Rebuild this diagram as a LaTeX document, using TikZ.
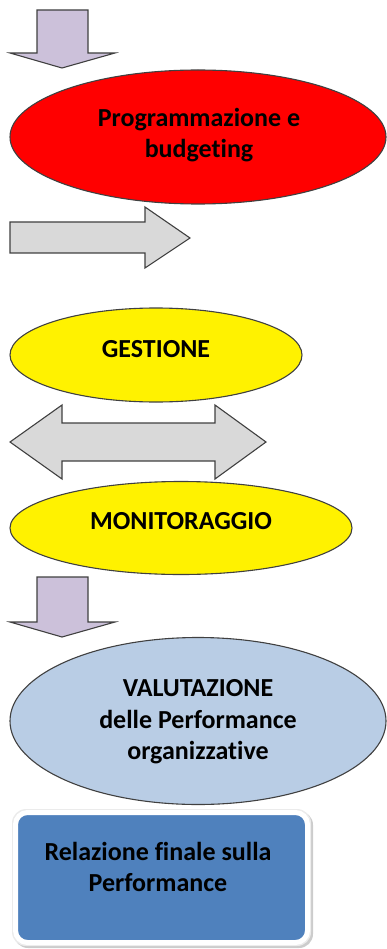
\documentclass[tikz,border=0pt]{standalone}
\usepackage{fontspec}
\setmainfont[Ligatures=NoCommon]{Carlito}
\usetikzlibrary{shapes.geometric,shadows}
\definecolor{lav}{HTML}{CCC1DA}
\definecolor{arrgray}{HTML}{D9D9D9}
\definecolor{lblue}{HTML}{B9CDE5}
\definecolor{dblue}{HTML}{4F81BD}
\begin{document}
\begin{tikzpicture}[x=1pt,y=-1pt,
  outl/.style={draw=black!75,line width=1.1pt},
  blob/.style={ellipse,outl,inner sep=0pt},
  lbl/.style={font=\fontsize{26}{31.5}\selectfont\bfseries,align=center,text=black,inner sep=0pt}]
\useasboundingbox (0,0) rectangle (387,949);
% first down arrow
\draw[outl,fill=lav] (37,10) -- (88,10) -- (88,53) -- (115,53) -- (62,68) -- (10,53) -- (37,53) -- cycle;
% red ellipse
\node[blob,fill=red,minimum width=376,minimum height=134] (prog) at (198,137) {};
\node[lbl] (progt) at (199,135) {Programmazione e\\budgeting};
% right arrow
\draw[outl,fill=arrgray] (10,222) -- (145,222) -- (145,207) -- (190,238) -- (145,268) -- (145,253) -- (10,253) -- cycle;
% GESTIONE
\node[blob,fill=yellow,minimum width=292,minimum height=94] (gest) at (156,355) {};
\node[lbl] (gestt) at (156,349) {GESTIONE};
% double arrow
\draw[outl,fill=arrgray] (10,442) -- (62,405) -- (62,423) -- (215,423) -- (215,405) -- (266,442) -- (215,479) -- (215,461) -- (62,461) -- (62,479) -- cycle;
% MONITORAGGIO
\node[blob,fill=yellow,minimum width=342,minimum height=93] (mon) at (181,528) {};
\node[lbl] (mont) at (181,521) {MONITORAGGIO};
% second down arrow
\draw[outl,fill=lav] (37,577) -- (88,577) -- (88,622) -- (115,622) -- (62,637) -- (10,622) -- (37,622) -- cycle;
% VALUTAZIONE
\node[blob,fill=lblue,minimum width=376,minimum height=167] (val) at (198,721) {};
\node[lbl] (valt) at (198,722) {VALUTAZIONE\\delle Performance\\organizzative};
% final box
\fill[black!20,rounded corners=14] (14,811) rectangle (313,948);
\fill[black!8,rounded corners=14] (12,809) rectangle (311,946);
\node[draw=white,line width=5pt,fill=dblue,rounded corners=12,minimum width=292,minimum height=130,inner sep=0pt] (rel) at (161.5,877.5) {};
\node[lbl] (relt) at (158,867) {Relazione finale sulla\\Performance};
\end{tikzpicture}
\end{document}
